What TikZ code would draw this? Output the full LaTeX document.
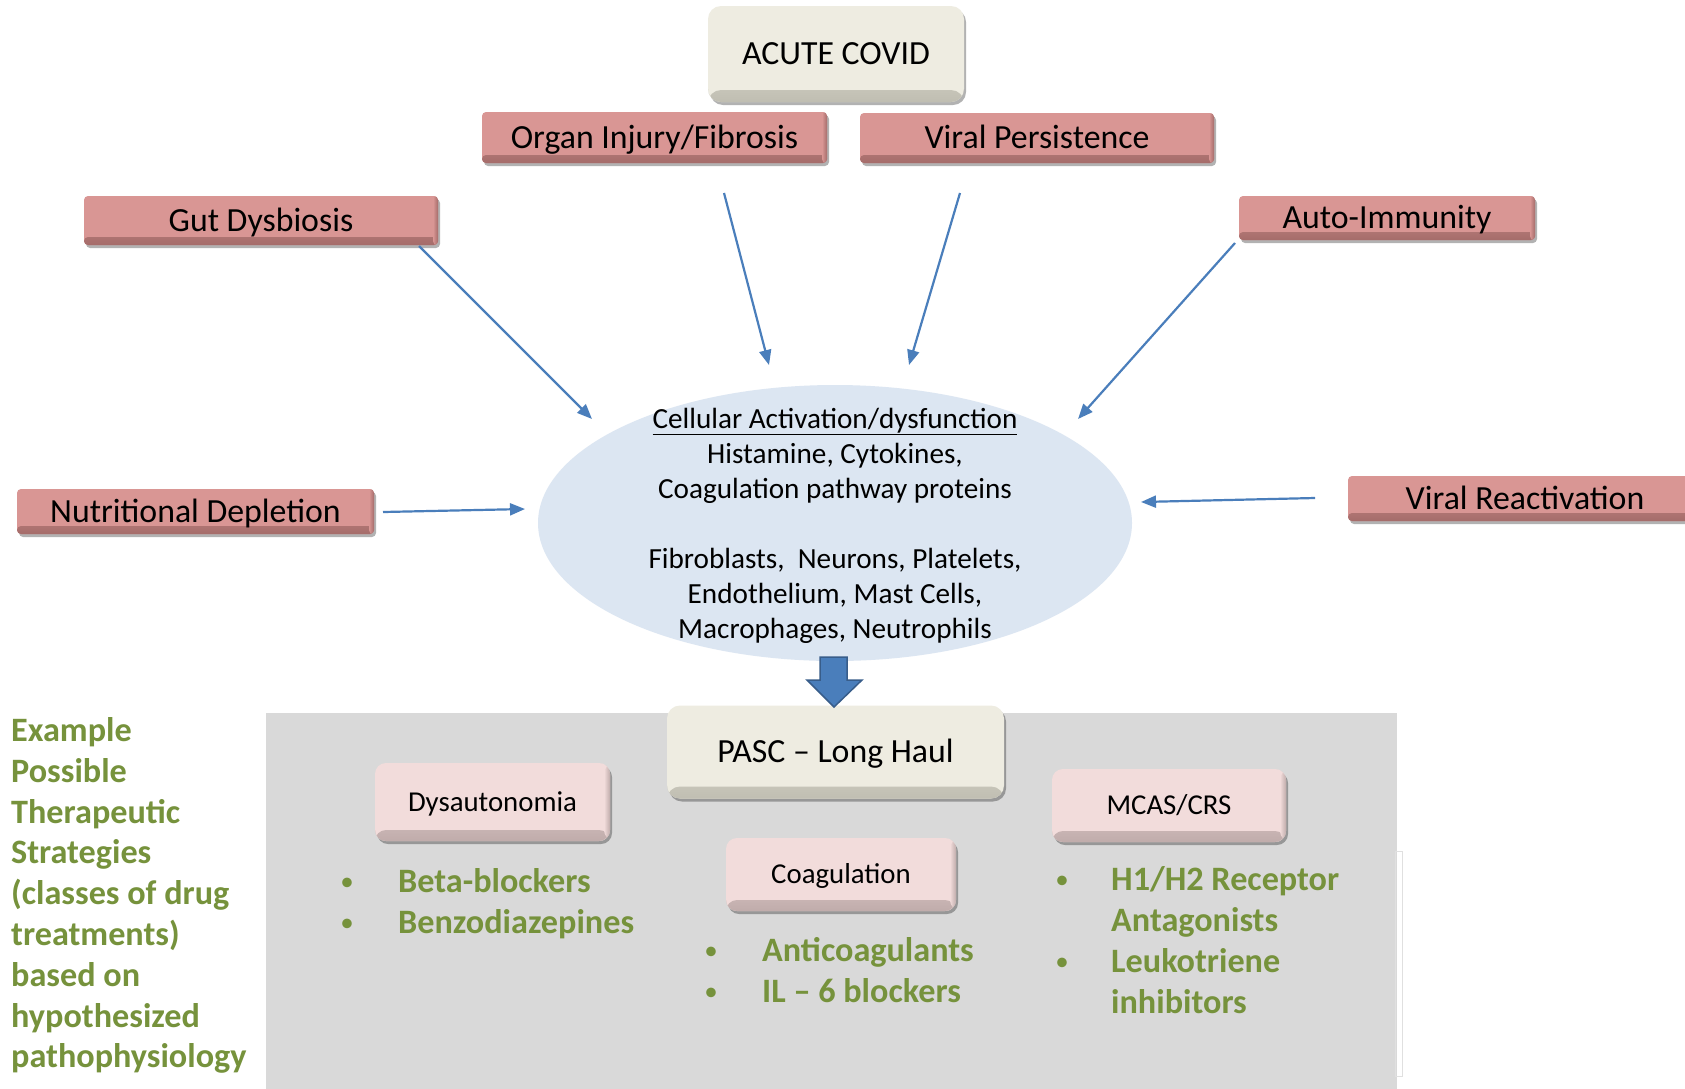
\documentclass[tikz,border=0pt]{standalone}
\usepackage{fontspec}
\setmainfont{Carlito}
\usetikzlibrary{arrows.meta,shapes.geometric,shadows}
\definecolor{redfill}{RGB}{217,150,148}
\definecolor{reddark}{RGB}{165,108,106}
\definecolor{beige}{RGB}{238,236,225}
\definecolor{beigedark}{RGB}{192,190,178}
\definecolor{pinkfill}{RGB}{242,220,219}
\definecolor{pinkdark}{RGB}{192,172,171}
\definecolor{ellfill}{RGB}{220,230,242}
\definecolor{arrowblue}{RGB}{74,126,187}
\definecolor{blockdark}{RGB}{56,93,138}
\definecolor{grayfill}{RGB}{217,217,217}
\definecolor{greentext}{RGB}{118,146,60}
\tikzset{
  shadowed/.style={drop shadow={shadow xshift=2pt,shadow yshift=-3pt,opacity=0.3,fill=black}},
  bevelred/.style={path picture={
      \shade[top color=redfill,bottom color=reddark]
        ([yshift=8pt]path picture bounding box.south west) rectangle (path picture bounding box.south east);
      \shade[left color=redfill,right color=reddark]
        ([xshift=-5pt]path picture bounding box.south east) rectangle (path picture bounding box.north east);}},
  bevelbeige/.style={path picture={
      \shade[top color=beige,bottom color=beigedark]
        ([yshift=12pt]path picture bounding box.south west) rectangle (path picture bounding box.south east);}},
  bevelpink/.style={path picture={
      \shade[top color=pinkfill,bottom color=pinkdark]
        ([yshift=11pt]path picture bounding box.south west) rectangle (path picture bounding box.south east);
      \shade[left color=pinkfill,right color=pinkdark]
        ([xshift=-6pt]path picture bounding box.south east) rectangle (path picture bounding box.north east);}},
  redbox/.style={rounded corners=4pt, fill=redfill, inner sep=0pt, shadowed, bevelred,
      font=\fontsize{33.8}{40}\selectfont, text height=24.5pt, text depth=3pt},
  beigebox/.style={rounded corners=13pt, fill=beige, inner sep=0pt, shadowed, bevelbeige,
      font=\fontsize{33.8}{40}\selectfont, text height=24.5pt, text depth=3pt},
  pinkbox/.style={rounded corners=11pt, fill=pinkfill, inner sep=0pt, shadowed, bevelpink,
      font=\fontsize{28.8}{34}\selectfont, text height=21pt, text depth=2.6pt},
  ell/.style={ellipse, fill=ellfill, inner sep=0pt},
  elltext/.style={align=center, inner sep=0pt, font=\fontsize{29.2}{35.1}\selectfont},
  conn/.style={draw=arrowblue, line width=2.2pt, -{Triangle[length=15pt,width=12pt]}},
  greenline/.style={anchor=base west, inner sep=0pt, text=greentext,
      font=\bfseries\fontsize{34.2}{40.8}\selectfont},
  bulletmark/.style={anchor=base, inner sep=0pt, text=greentext,
      font=\fontsize{27}{40.8}\selectfont},
}
\begin{document}
\begin{tikzpicture}[x=1pt,y=-1pt]
\useasboundingbox (0,0) rectangle (1685,1088);
\fill[white] (0,0) rectangle (1685,1088);

% top causes
\node[beigebox, minimum width=256pt, minimum height=96pt] (acute) at (836,54) {ACUTE COVID};
\node[redbox, minimum width=345pt, minimum height=51pt] (organ) at (654.5,137.5) {Organ Injury/Fibrosis};
\node[redbox, minimum width=354pt, minimum height=50pt] (vpers) at (1037,138) {Viral Persistence};
\node[redbox, minimum width=354pt, minimum height=49pt] (gut) at (261,220.5) {Gut Dysbiosis};
\node[redbox, minimum width=296pt, minimum height=44pt] (auto) at (1387,218) {Auto-Immunity};
\node[redbox, minimum width=357pt, minimum height=45pt] (nutri) at (195.5,511.5) {Nutritional Depletion};
\node[redbox, minimum width=354pt, minimum height=45pt] (vreact) at (1525,498.5) {Viral Reactivation};

% central ellipse
\node[ell, minimum width=594pt, minimum height=276pt] (cell) at (835,523) {};
\node[elltext] (celltext) at (835,526) {\underline{Cellular Activation/dysfunction}\\
Histamine, Cytokines,\\
Coagulation pathway proteins\\[35.1pt]
Fibroblasts,\ \ Neurons, Platelets,\\
Endothelium,\ Mast Cells,\\
Macrophages, Neutrophils};

% connectors
\coordinate (gutS) at (419,246);   \coordinate (gutE) at (592,419);
\coordinate (orgS) at (724,193);   \coordinate (orgE) at (769,365);
\coordinate (vpS)  at (960,193);   \coordinate (vpE)  at (909,365);
\coordinate (autS) at (1235,243);  \coordinate (autE) at (1078,419);
\coordinate (nutS) at (383,512);   \coordinate (nutE) at (525,509);
\coordinate (vrS)  at (1315,498);  \coordinate (vrE)  at (1141,502);
\draw[conn] (gutS) -- (gutE);
\draw[conn] (orgS) -- (orgE);
\draw[conn] (vpS) -- (vpE);
\draw[conn] (autS) -- (autE);
\draw[conn] (nutS) -- (nutE);
\draw[conn] (vrS) -- (vrE);

% bottom panel
\fill[grayfill] (266,713) rectangle (1397,1100);
\draw[draw=black!12, line width=0.8pt] (1395,851) rectangle (1402,1076);

\node[beigebox, minimum width=337pt, minimum height=93pt] (pasc) at (835.5,752) {PASC -- Long Haul};
\fill[arrowblue, draw=blockdark, line width=1.5pt, line join=miter]
  (820,657) -- (847,657) -- (847,680) -- (862,680) -- (834,707) -- (807,680) -- (820,680) -- cycle;

\node[pinkbox, minimum width=235pt, minimum height=78pt] (dys) at (492.5,802) {Dysautonomia};
\node[pinkbox, minimum width=230pt, minimum height=73pt] (coag) at (841,874.5) {Coagulation};
\node[pinkbox, minimum width=234pt, minimum height=73pt] (mcas) at (1169,805.5) {MCAS/CRS};

% left green text
\node[greenline] (g1) at (11,741.5) {Example};
\node[greenline] (g2) at (11,782.3) {Possible};
\node[greenline] (g3) at (11,823.1) {Therapeutic};
\node[greenline] (g4) at (11,863.9) {Strategies};
\node[greenline] (g5) at (11,904.7) {(classes of drug};
\node[greenline] (g6) at (11,945.5) {treatments)};
\node[greenline] (g7) at (11,986.3) {based on};
\node[greenline] (g8) at (11,1027.1) {hypothesized};
\node[greenline] (g9) at (11,1067.9) {pathophysiology};

% Dysautonomia treatments
\node[bulletmark] (db1) at (347,890) {•};
\node[greenline] (dt1) at (398,892) {Beta-blockers};
\node[bulletmark] (db2) at (347,931) {•};
\node[greenline] (dt2) at (398,933) {Benzodiazepines};

% Coagulation treatments
\node[bulletmark] (cb1) at (711,959) {•};
\node[greenline] (ct1) at (762,961) {Anticoagulants};
\node[bulletmark] (cb2) at (711,1000) {•};
\node[greenline] (ct2) at (762,1002) {IL -- 6 blockers};

% MCAS treatments
\node[bulletmark] (mb1) at (1062,888) {•};
\node[greenline] (mt1) at (1111,890) {H1/H2 Receptor};
\node[greenline] (mt2) at (1111,931) {Antagonists};
\node[bulletmark] (mb2) at (1062,970) {•};
\node[greenline] (mt3) at (1111,972) {Leukotriene};
\node[greenline] (mt4) at (1111,1013) {inhibitors};
\end{tikzpicture}
\end{document}
